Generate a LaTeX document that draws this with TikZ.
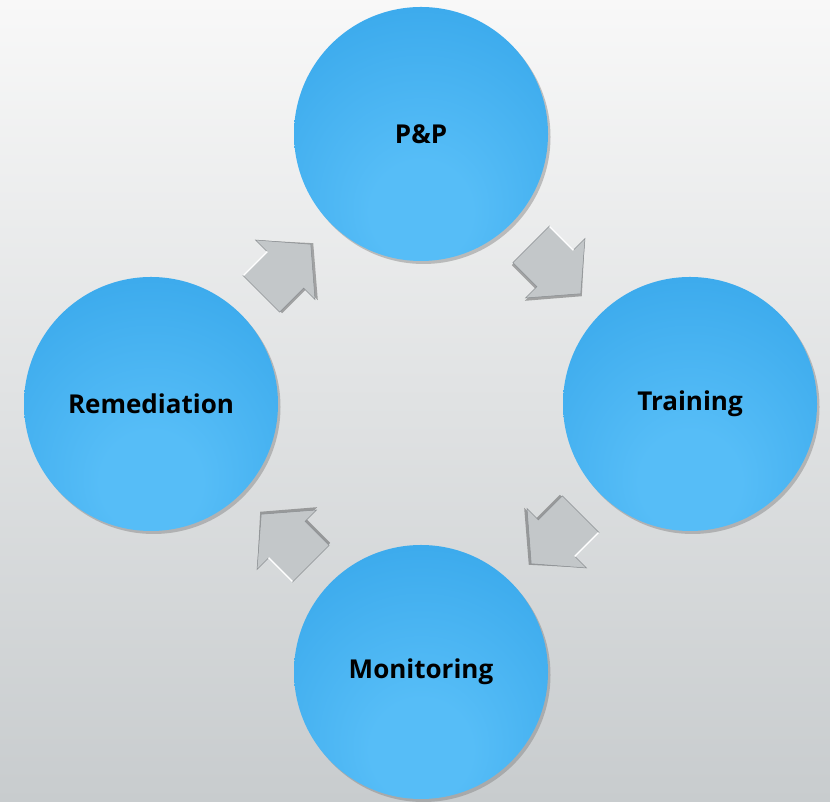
\documentclass[tikz,border=0pt]{standalone}
\usepackage{fontspec}
\setmainfont{Open Sans}
\usetikzlibrary{shadows}
\definecolor{blueL}{HTML}{56BDF7}
\definecolor{blueD}{HTML}{2C9FE6}
\definecolor{arrowgray}{HTML}{C3C7C9}
\definecolor{arrowedge}{HTML}{8A8E91}
\definecolor{bgtop}{HTML}{F8F8F8}
\definecolor{bgbot}{HTML}{C8CCCE}
\pgfdeclareradialshading{circshade}{\pgfpoint{0bp}{-18bp}}{color(0bp)=(blueL); color(10bp)=(blueL); color(50bp)=(blueD); color(70bp)=(blueD)}
\tikzset{
  stage/.style={circle, minimum size=254pt, inner sep=0pt, shade, shading=circshade,
    drop shadow={shadow xshift=2.5pt, shadow yshift=-3pt, opacity=0.45},
    font=\bfseries\fontsize{26}{30}\selectfont, text=black},
  blockarrow/.pic={
    \begin{scope}[rotate=#1]
      \fill[black, opacity=0.3] (-34,-28.5) -- (0.5,-28.5) -- (0.5,-44.5) -- (37.5,-1) -- (0.5,40) -- (0.5,24) -- (-34,24) -- cycle;
      \fill[arrowgray] (-35,-26) -- (-1,-26) -- (-1,-42) -- (35,0) -- (-1,42) -- (-1,26) -- (-35,26) -- cycle;
      \draw[arrowedge, line width=0.5pt, line join=miter] (-35,26) -- (-35,-26) -- (-1,-26) -- (-1,-42) -- (35,0) -- (-1,42) -- (-1,26);
      \draw[white, line width=1.4pt] (-1,25.5) -- (-34.5,25.5);
    \end{scope}
  }
}
\begin{document}
\begin{tikzpicture}[x=1pt, y=1pt]
  \useasboundingbox (0,0) rectangle (830,802);
  \shade[top color=bgtop, bottom color=bgbot] (0,0) rectangle (830,802);
  % arrow positions
  \coordinate (a1) at (286,533);
  \coordinate (a2) at (556,533);
  \coordinate (a3) at (556,263);
  \coordinate (a4) at (286,263);
  \pic at (a1) {blockarrow=45};
  \pic at (a2) {blockarrow=-45};
  \pic at (a3) {blockarrow=-135};
  \pic at (a4) {blockarrow=135};
  % stages
  \node[stage] (pp) at (421,668) {P\&P};
  \node[stage] (train) at (690,398) {Training};
  \node[stage] (mon) at (421,130) {Monitoring};
  \node[stage] (rem) at (151,398) {Remediation};
\end{tikzpicture}
\end{document}
